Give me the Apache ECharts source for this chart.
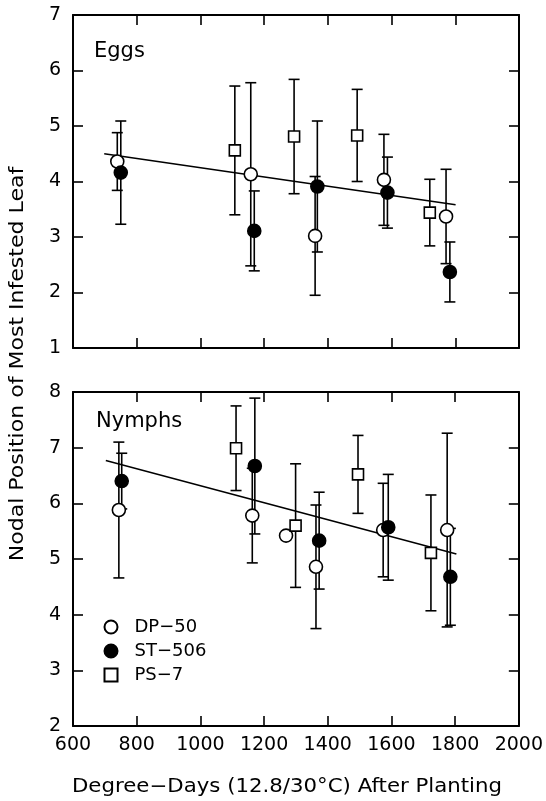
<!DOCTYPE html>
<html>
<head>
<meta charset="utf-8">
<script src="https://cdn.jsdelivr.net/npm/echarts@6/dist/echarts.min.js"></script>
<style>
html,body{margin:0;padding:0;background:#fff;}
#c{width:546px;height:801px;}
</style>
</head>
<body>
<div id="c"></div>
<script>
// ---- data: [degree-days, mean nodal position, error half-width]
const seriesNames = ['DP\u221250', 'ST\u2212506', 'PS\u22127'];
const xTicks = [600, 800, 1000, 1200, 1400, 1600, 1800, 2000];
const eggsYTicks = [1, 2, 3, 4, 5, 6, 7];
const nymphsYTicks = [2, 3, 4, 5, 6, 7, 8];

const eggsDP50 = [[739, 4.36, 0.52], [1158, 4.13, 1.65], [1360, 3.02, 1.07], [1576, 4.03, 0.82], [1771, 3.37, 0.85]];
const eggsST506 = [[750, 4.16, 0.93], [1169, 3.11, 0.72], [1367, 3.91, 1.18], [1587, 3.80, 0.64], [1783, 2.37, 0.54]];
const eggsPS7 = [[1108, 4.56, 1.16], [1294, 4.81, 1.03], [1492, 4.83, 0.83], [1720, 3.44, 0.60]];
const eggsFit = [[698, 4.50], [1801, 3.58]];

const nymphsDP50 = [[744, 5.88, 1.22], [1163, 5.78, 0.85], [1269, 5.42, 0], [1363, 4.86, 1.11], [1574, 5.52, 0.84], [1775, 5.52, 1.74]];
const nymphsST506 = [[753, 6.40, 0.50], [1171, 6.67, 1.22], [1373, 5.33, 0.87], [1590, 5.57, 0.95], [1785, 4.68, 0.87]];
const nymphsPS7 = [[1112, 6.99, 0.76], [1299, 5.60, 1.11], [1495, 6.52, 0.70], [1724, 5.11, 1.04]];
const nymphsFit = [[703, 6.77], [1804, 5.09]];

const FONT = 'DejaVu Sans';
const FS = 19;

function errSeries(data, xi, yi) {
  return {
    type: 'custom', xAxisIndex: xi, yAxisIndex: yi, silent: true, z: 2,
    encode: { x: 0, y: 1 },
    data: data,
    renderItem: function (params, api) {
      const x = api.value(0), y = api.value(1), e = api.value(2);
      if (!e) return null;
      const hi = api.coord([x, y + e]), lo = api.coord([x, y - e]);
      const w = 5.5, st = { stroke: '#000', lineWidth: 1.6 };
      return {
        type: 'group', children: [
          { type: 'line', shape: { x1: hi[0], y1: hi[1], x2: lo[0], y2: lo[1] }, style: st },
          { type: 'line', shape: { x1: hi[0] - w, y1: hi[1], x2: hi[0] + w, y2: hi[1] }, style: st },
          { type: 'line', shape: { x1: lo[0] - w, y1: lo[1], x2: lo[0] + w, y2: lo[1] }, style: st }
        ]
      };
    }
  };
}
function pts(name, data, xi, yi, kind) {
  const open = kind !== 'filled';
  return {
    name: name, type: 'scatter', xAxisIndex: xi, yAxisIndex: yi, z: 5,
    symbol: kind === 'square' ? 'rect' : 'circle',
    symbolSize: kind === 'square' ? 11 : 13,
    itemStyle: { color: open ? '#fff' : '#000', borderColor: '#000', borderWidth: 1.6, opacity: 1 },
    emphasis: { disabled: true },
    data: data.map(d => [d[0], d[1]])
  };
}
function fit(data, xi, yi) {
  return {
    type: 'line', xAxisIndex: xi, yAxisIndex: yi, z: 3, symbol: 'none', silent: true,
    lineStyle: { color: '#000', width: 1.5 },
    data: data
  };
}
const axLine = { show: true, lineStyle: { color: '#000', width: 2 } };
const tick = { show: true, inside: true, length: 10, lineStyle: { color: '#000', width: 1.6 } };
const fmt = v => String(v);
function xAx(gi, pos, labels) {
  return {
    type: 'value', gridIndex: gi, position: pos, min: xTicks[0], max: xTicks[xTicks.length - 1], interval: 200,
    axisLine: axLine, axisTick: tick, splitLine: { show: false },
    axisLabel: { show: labels, color: '#000', fontFamily: FONT, fontSize: FS, margin: 10, formatter: fmt }
  };
}
function yAx(gi, pos, ticks, labels) {
  return {
    type: 'value', gridIndex: gi, position: pos, min: ticks[0], max: ticks[ticks.length - 1], interval: 1,
    axisLine: axLine, axisTick: tick, splitLine: { show: false },
    axisLabel: { show: labels, color: '#000', fontFamily: FONT, fontSize: FS, margin: 12, formatter: fmt }
  };
}

const chart = echarts.init(document.getElementById('c'), null, { renderer: 'canvas' });
chart.setOption({
  animation: false,
  backgroundColor: '#fff',
  grid: [
    { left: 73, top: 15, width: 446, height: 333 },
    { left: 73, top: 392, width: 446, height: 334 }
  ],
  xAxis: [xAx(0, 'bottom', false), xAx(0, 'top', false), xAx(1, 'bottom', true), xAx(1, 'top', false)],
  yAxis: [yAx(0, 'left', eggsYTicks, true), yAx(0, 'right', eggsYTicks, false), yAx(1, 'left', nymphsYTicks, true), yAx(1, 'right', nymphsYTicks, false)],
  legend: {
    orient: 'vertical', left: 103.5, top: 618, padding: 0, itemWidth: 13, itemHeight: 13, itemGap: 6,
    textStyle: { color: '#000', fontFamily: FONT, fontSize: 18, lineHeight: 18, padding: [0, 0, 0, 12] },
    data: seriesNames, selectedMode: false
  },
  title: [
    { text: 'Eggs', left: 94, top: 41, padding: 0, textStyle: { fontFamily: FONT, fontSize: 21, fontWeight: 'normal', color: '#000' } },
    { text: 'Nymphs', left: 96, top: 411, padding: 0, textStyle: { fontFamily: FONT, fontSize: 21, fontWeight: 'normal', color: '#000' } }
  ],
  graphic: [
    { type: 'text', x: 18, y: 364, rotation: Math.PI / 2, scaleX: 1.16, style: { text: 'Nodal Position of Most Infested Leaf', font: '19px "' + FONT + '"', fill: '#000', align: 'center', verticalAlign: 'middle' } },
    { type: 'text', x: 287, y: 787, scaleX: 1.12, style: { text: 'Degree\u2212Days (12.8/30\u00B0C) After Planting', font: '19px "' + FONT + '"', fill: '#000', align: 'center', verticalAlign: 'middle' } }
  ],
  series: [
    fit(eggsFit, 0, 0),
    errSeries(eggsDP50, 0, 0), errSeries(eggsST506, 0, 0), errSeries(eggsPS7, 0, 0),
    pts(seriesNames[0], eggsDP50, 0, 0, 'open'),
    pts(seriesNames[1], eggsST506, 0, 0, 'filled'),
    pts(seriesNames[2], eggsPS7, 0, 0, 'square'),
    fit(nymphsFit, 2, 2),
    errSeries(nymphsDP50, 2, 2), errSeries(nymphsST506, 2, 2), errSeries(nymphsPS7, 2, 2),
    pts(seriesNames[0], nymphsDP50, 2, 2, 'open'),
    pts(seriesNames[1], nymphsST506, 2, 2, 'filled'),
    pts(seriesNames[2], nymphsPS7, 2, 2, 'square')
  ]
});
</script>
</body>
</html>
